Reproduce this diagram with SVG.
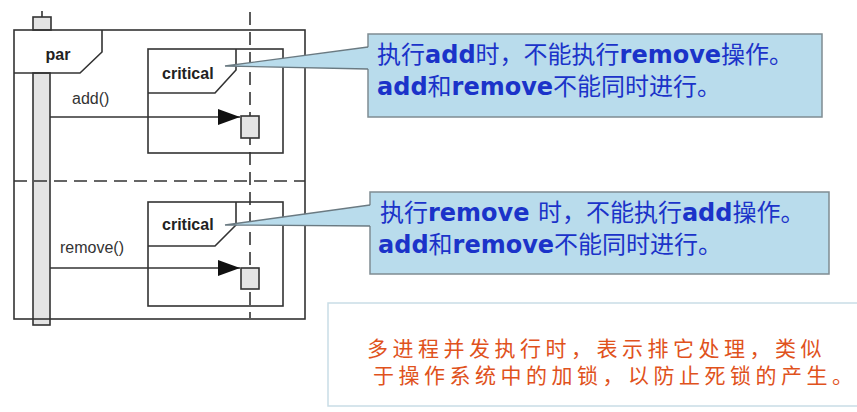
<svg xmlns="http://www.w3.org/2000/svg" width="857" height="412" viewBox="0 0 857 412">
<style>
.ln{fill:none;stroke:#333;stroke-width:1.6}
.act{fill:#e4e4e4;stroke:#333;stroke-width:1.6}
.dash{fill:none;stroke:#333;stroke-width:1.6;stroke-dasharray:13 7}
.lbl{font-family:"Liberation Sans",Arial,sans-serif;font-size:16px;fill:#333}
.kw{font-family:"Liberation Sans",Arial,sans-serif;font-size:16px;font-weight:bold;fill:#222}
.call{fill:#b9dcec;stroke:#7f8c92;stroke-width:1.5}
.ptr{fill:#b9dcec;stroke:none}
.ptrl{fill:none;stroke:#6a7a82;stroke-width:1.3}
.ct{font-family:"Noto Sans CJK SC",sans-serif;font-size:24px;fill:#1b33c9}
.ct .b{font-family:"DejaVu Sans","Noto Sans CJK SC",sans-serif;font-weight:bold;font-size:24px}
.note{font-family:"Noto Sans CJK SC",sans-serif;font-size:21px;fill:#e0521c;letter-spacing:4.5px}
</style>
<defs>
<marker id="ah" viewBox="0 0 22 16" refX="22" refY="8" markerWidth="22" markerHeight="16" markerUnits="userSpaceOnUse" orient="auto">
<path d="M0,0 L22,8 L0,16 Z" fill="#111"/>
</marker>
</defs>

<g id="lifeline-left">
<line class="ln" x1="42" y1="11" x2="42" y2="17"/>
<rect class="act" x="33" y="17" width="18" height="13"/>
<rect class="act" x="33" y="73" width="17" height="252"/>
</g>

<g id="frame-par">
<rect class="ln" x="14" y="30" width="291" height="289"/>
<polyline class="ln" points="102,30 102,52 80,73 14,73"/>
<text class="kw" x="58" y="60" text-anchor="middle">par</text>
<line class="dash" x1="14" y1="181" x2="305" y2="181"/>
</g>

<g id="lifeline-right">
<line class="dash" x1="250" y1="12" x2="250" y2="318"/>
</g>

<g id="critical-1">
<rect class="ln" x="148" y="49" width="135" height="104"/>
<polyline class="ln" points="236,49 236,70 215,93 148,93"/>
<text class="kw" x="162" y="79">critical</text>
</g>

<g id="critical-2">
<rect class="ln" x="148" y="202" width="135" height="104"/>
<polyline class="ln" points="236,202 236,225 215,246 148,246"/>
<text class="kw" x="162" y="230">critical</text>
</g>

<g id="connectors">
<line class="ln" x1="50" y1="117" x2="240" y2="117" marker-end="url(#ah)"/>
<text class="lbl" x="72" y="104">add()</text>
<line class="ln" x1="50" y1="268" x2="240" y2="268" marker-end="url(#ah)"/>
<text class="lbl" x="60" y="253">remove()</text>
</g>

<g id="act-1"><rect class="act" x="241" y="116" width="18" height="22"/></g>
<g id="act-2"><rect class="act" x="241" y="268" width="18" height="21"/></g>

<g id="callout-1">
<rect class="call" x="368" y="34" width="454" height="83"/>
<polygon class="ptr" points="225,66 370,47 370,69"/>
<polyline class="ptrl" points="368,47 225,66 368,69"/>
<text class="ct" x="377" y="63">执行<tspan class="b">add</tspan>时，不能执行<tspan class="b">remove</tspan>操作。</text>
<text class="ct" x="377" y="95"><tspan class="b">add</tspan>和<tspan class="b">remove</tspan>不能同时进行。</text>
</g>

<g id="callout-2">
<rect class="call" x="370" y="192" width="459" height="82"/>
<polygon class="ptr" points="225,225 372,205 372,226"/>
<polyline class="ptrl" points="370,205 225,225 370,226"/>
<text class="ct" x="380" y="221">执行<tspan class="b">remove </tspan>时，不能执行<tspan class="b">add</tspan>操作。</text>
<text class="ct" x="378" y="253"><tspan class="b">add</tspan>和<tspan class="b">remove</tspan>不能同时进行。</text>
</g>

<g id="note">
<rect x="328" y="303" width="540" height="103" fill="#fff" stroke="#c9dde6" stroke-width="1.5"/>
<text class="note" x="367" y="356">多进程并发执行时，表示排它处理，类似</text>
<text class="note" x="373" y="383">于操作系统中的加锁，以防止死锁的产生。</text>
</g>
</svg>
